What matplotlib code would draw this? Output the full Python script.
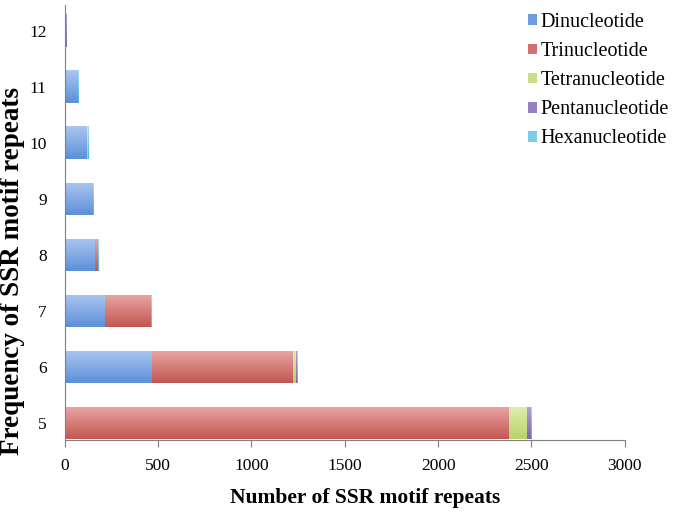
"""
Stacked horizontal bars of SSR motif repeats by motif type.
"""

import numpy as np
import matplotlib.pyplot as plt
from matplotlib.colors import LinearSegmentedColormap
from matplotlib.patches import Patch

plt.rcParams["font.family"] = ["Liberation Serif", "DejaVu Serif"]

repeats = [5, 6, 7, 8, 9, 10, 11, 12]
motif_types = ["Dinucleotide", "Trinucleotide", "Tetranucleotide", "Pentanucleotide", "Hexanucleotide"]

dinucleotide = [0, 470, 215, 160, 150, 122, 70, 6]
trinucleotide = [2378, 755, 245, 18, 0, 0, 0, 0]
tetranucleotide = [97, 15, 0, 0, 0, 5, 0, 0]
pentanucleotide = [22, 6, 3, 0, 4, 0, 3, 5]
hexanucleotide = [3, 2, 4, 2, 2, 2, 2, 0]

# light (top) -> dark (bottom) gradient for each series, Excel style
light_colors = ["#a9c6f0", "#eaa5a3", "#dfeeb0", "#b3a2d6", "#a6def0"]
dark_colors = ["#5f8fd8", "#c25754", "#b7d36a", "#7f66b0", "#4db8d8"]
legend_colors = ["#6f9be0", "#d07370", "#c8de8a", "#9381c4", "#7ccde6"]

series = [dinucleotide, trinucleotide, tetranucleotide, pentanucleotide, hexanucleotide]

fig = plt.figure(figsize=(6.74, 5.12), dpi=100)
ax = fig.add_axes([0.096, 0.1406, 0.831, 0.849])

bar_h = 0.58
left = np.zeros(len(repeats))
grad = np.linspace(0, 1, 64).reshape(-1, 1)
for vals, c_light, c_dark in zip(series, light_colors, dark_colors):
    bars = ax.barh(repeats, vals, left=left, height=bar_h, color=c_dark, edgecolor="none")
    cmap = LinearSegmentedColormap.from_list("g", [c_dark, c_light])
    for bar in bars:
        w = bar.get_width()
        if w <= 0:
            continue
        x0, y0 = bar.get_x(), bar.get_y()
        im = ax.imshow(grad, cmap=cmap, aspect="auto", origin="lower",
                       extent=[x0, x0 + w, y0, y0 + bar_h], zorder=2)
        im.set_clip_path(bar)
    left += np.array(vals)

ax.set_xlim(0, 3000)
ax.set_ylim(4.7, 12.45)
ax.set_xticks(np.arange(0, 3001, 500))
ax.set_yticks(repeats)
ax.set_yticklabels([str(r) for r in repeats])

ax.spines["top"].set_visible(False)
ax.spines["right"].set_visible(False)
ax.spines["left"].set_color("#7f7f7f")
ax.spines["bottom"].set_color("#7f7f7f")
ax.tick_params(axis="x", length=5, color="#7f7f7f", labelsize=12.5, pad=8)
ax.tick_params(axis="y", length=0, labelsize=12.5, pad=13)

ax.set_xlabel("Number of SSR motif repeats", fontsize=15.5, fontweight="bold")
ax.xaxis.set_label_coords(0.537, -0.111)
fig.text(0.019, 0.471, "Frequency of SSR motif repeats", rotation=90, fontsize=19.5,
         fontweight="bold", ha="center", va="center")

handles = [Patch(facecolor=c, edgecolor="none") for c in legend_colors]
ax.legend(handles, motif_types, loc="upper right", bbox_to_anchor=(1.1, 1.01), frameon=False,
          fontsize=14.5, handlelength=0.45, handleheight=0.45, handletextpad=0.15,
          labelspacing=0.5, borderaxespad=0.2)

fig.savefig("out.png", dpi=100)
